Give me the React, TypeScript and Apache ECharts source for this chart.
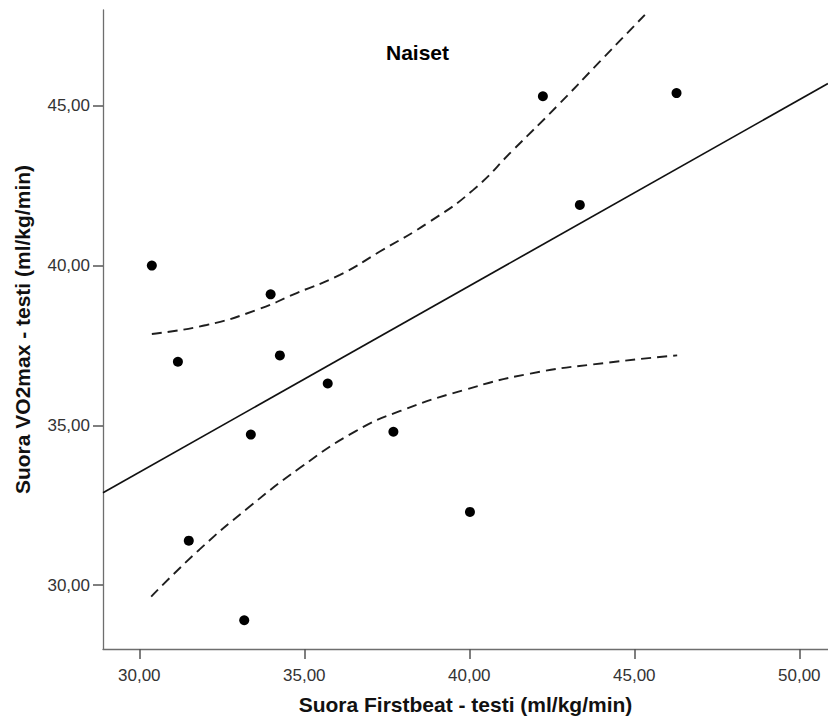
import React, { useEffect, useRef } from "react";
import * as echarts from "echarts";

const titleText = "Naiset";
const xAxisName = "Suora Firstbeat - testi (ml/kg/min)";
const yAxisName = "Suora VO2max - testi (ml/kg/min)";

const xTicks = [30, 35, 40, 45, 50];
const yTicks = [30, 35, 40, 45];

const points: [number, number][] = [
  [30.38, 40.0],
  [31.17, 36.99],
  [31.5, 31.39],
  [33.18, 28.9],
  [33.38, 34.71],
  [33.98, 39.1],
  [34.26, 37.19],
  [35.71, 36.31],
  [37.7, 34.8],
  [40.02, 32.29],
  [42.23, 45.3],
  [43.35, 41.9],
  [46.28, 45.4],
];

const fitLine: [number, number][] = [
  [28.9, 32.89],
  [50.87, 45.7],
];

const upperCI: [number, number][] = [
  [30.38, 37.86],
  [32.04, 38.14],
  [33.55, 38.61],
  [34.77, 39.14],
  [36.08, 39.71],
  [37.29, 40.44],
  [38.81, 41.38],
  [40.12, 42.37],
  [41.33, 43.62],
  [42.65, 44.98],
  [43.96, 46.39],
  [45.32, 47.85],
];

const lowerCI: [number, number][] = [
  [30.36, 29.64],
  [31.82, 31.11],
  [33.29, 32.41],
  [34.87, 33.67],
  [36.56, 34.82],
  [37.91, 35.45],
  [39.82, 36.1],
  [41.85, 36.62],
  [44.1, 36.95],
  [46.3, 37.19],
];

const FONT = "'Liberation Sans', Arial, sans-serif";
const fmt = (v: number) => v.toFixed(2).replace(".", ",");

export default function App() {
  const ref = useRef<HTMLDivElement>(null);
  useEffect(() => {
    if (!ref.current) return;
    const chart = echarts.init(ref.current, null, { renderer: "svg" });
    const axisCommon = {
      splitLine: { show: false },
      axisLine: { show: true, lineStyle: { color: "#6e6e6e", width: 1.3 } },
      axisTick: { show: true, length: 10, lineStyle: { color: "#555", width: 1.5 } },
      nameLocation: "middle" as const,
      nameTextStyle: { fontFamily: FONT, fontSize: 21, fontWeight: "bold", color: "#111" },
    };
    const dashed = { color: "#1e1e1e", width: 1.9, type: [10, 6] };
    chart.setOption({
      animation: false,
      backgroundColor: "#fff",
      title: {
        text: titleText,
        left: 386,
        top: 42,
        padding: 0,
        textStyle: { fontFamily: FONT, fontSize: 21, fontWeight: "bold", color: "#000" },
      },
      grid: { left: 103, right: 0, top: 10, bottom: 76, containLabel: false },
      xAxis: {
        ...axisCommon,
        type: "value",
        min: 28.9,
        max: 50.87,
        name: xAxisName,
        nameGap: 45,
        axisTick: { ...axisCommon.axisTick, customValues: xTicks },
        axisLabel: {
          customValues: xTicks,
          formatter: fmt,
          margin: 18,
          fontFamily: FONT,
          fontSize: 17,
          color: "#333",
        },
      },
      yAxis: {
        ...axisCommon,
        type: "value",
        min: 28,
        max: 48,
        name: yAxisName,
        nameGap: 70,
        axisTick: { ...axisCommon.axisTick, customValues: yTicks },
        axisLabel: {
          customValues: yTicks,
          formatter: fmt,
          margin: 13,
          fontFamily: FONT,
          fontSize: 17,
          color: "#333",
        },
      },
      series: [
        {
          type: "line",
          data: fitLine,
          symbol: "none",
          lineStyle: { color: "#111", width: 1.7 },
          silent: true,
          clip: true,
        },
        {
          type: "line",
          data: upperCI,
          symbol: "none",
          smooth: 0.5,
          lineStyle: dashed,
          silent: true,
          clip: true,
        },
        {
          type: "line",
          data: lowerCI,
          symbol: "none",
          smooth: 0.5,
          lineStyle: dashed,
          silent: true,
          clip: true,
        },
        {
          type: "scatter",
          data: points,
          symbol: "circle",
          symbolSize: 10,
          itemStyle: { color: "#000", opacity: 1 },
          z: 5,
        },
      ],
    });
    return () => chart.dispose();
  }, []);
  return (
    <div
      ref={ref}
      style={{ position: "absolute", left: 0, top: 0, width: 828, height: 725 }}
    />
  );
}
